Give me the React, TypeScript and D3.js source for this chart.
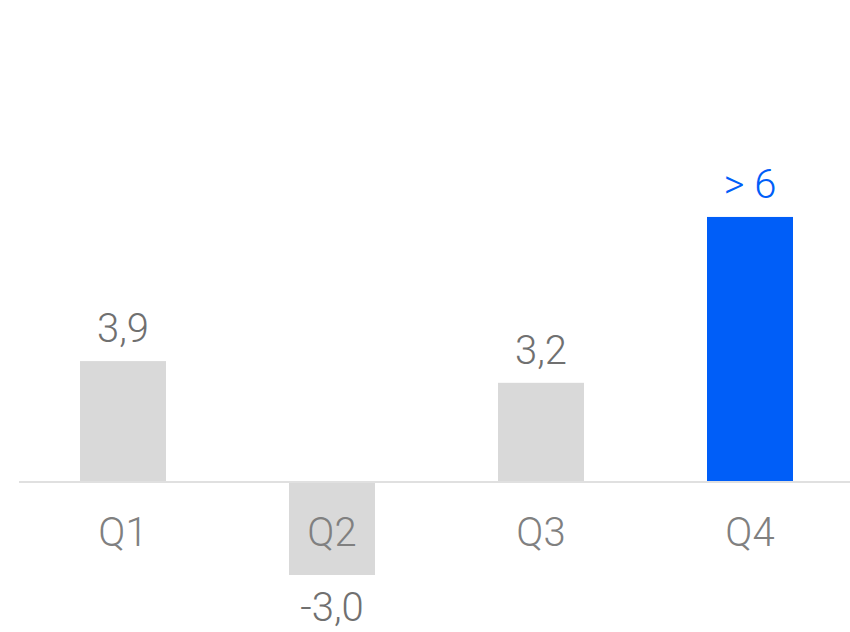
import React from "react";
import * as d3 from "d3";

const categories = ["Q1", "Q2", "Q3", "Q4"];
const values = [3.9, -3.0, 3.2, 8.55];
const valueLabels = ["3,9", "-3,0", "3,2", "> 6"];
const highlighted = [false, false, false, true];

const W = 850;
const H = 632;

export default function App() {
  const x = d3
    .scaleBand<string>()
    .domain(categories)
    .range([18.5, 854.5])
    .paddingInner(0.5885)
    .paddingOuter(0.29425);
  const y = d3.scaleLinear().domain([-4, 10]).range([606, 172]);
  const y0 = y(0);
  const font = "Roboto, 'Noto Sans', sans-serif";

  return (
    <div style={{ position: "fixed", left: 0, top: 0, width: W, height: H, background: "#fff" }}>
      <svg width={W} height={H} style={{ display: "block" }}>
        {categories.map((c, i) => {
          const v = values[i];
          const bx = x(c)!;
          const bw = x.bandwidth();
          const top = Math.min(y(v), y0);
          const h = Math.abs(y(v) - y0);
          const fill = highlighted[i] ? "#005ef8" : "#d9d9d9";
          const cx = bx + bw / 2;
          const labelY = v >= 0 ? y(v) - 19 : y(v) + 46;
          return (
            <g key={c}>
              <rect x={bx} y={top} width={bw} height={h} fill={fill} />
              <text
                x={cx}
                y={labelY}
                textAnchor="middle"
                fontFamily={font}
                fontWeight={300}
                fontSize={40}
                fill={highlighted[i] ? "#005ef8" : "#707070"}
              >
                {valueLabels[i]}
              </text>
              <text
                x={cx}
                y={y0 + 64}
                textAnchor="middle"
                fontFamily={font}
                fontWeight={300}
                fontSize={40}
                fill="#808080"
              >
                {c}
              </text>
            </g>
          );
        })}
        <line x1={19} x2={850} y1={y0} y2={y0} stroke="#e0e0e0" strokeWidth={2} />
      </svg>
    </div>
  );
}
